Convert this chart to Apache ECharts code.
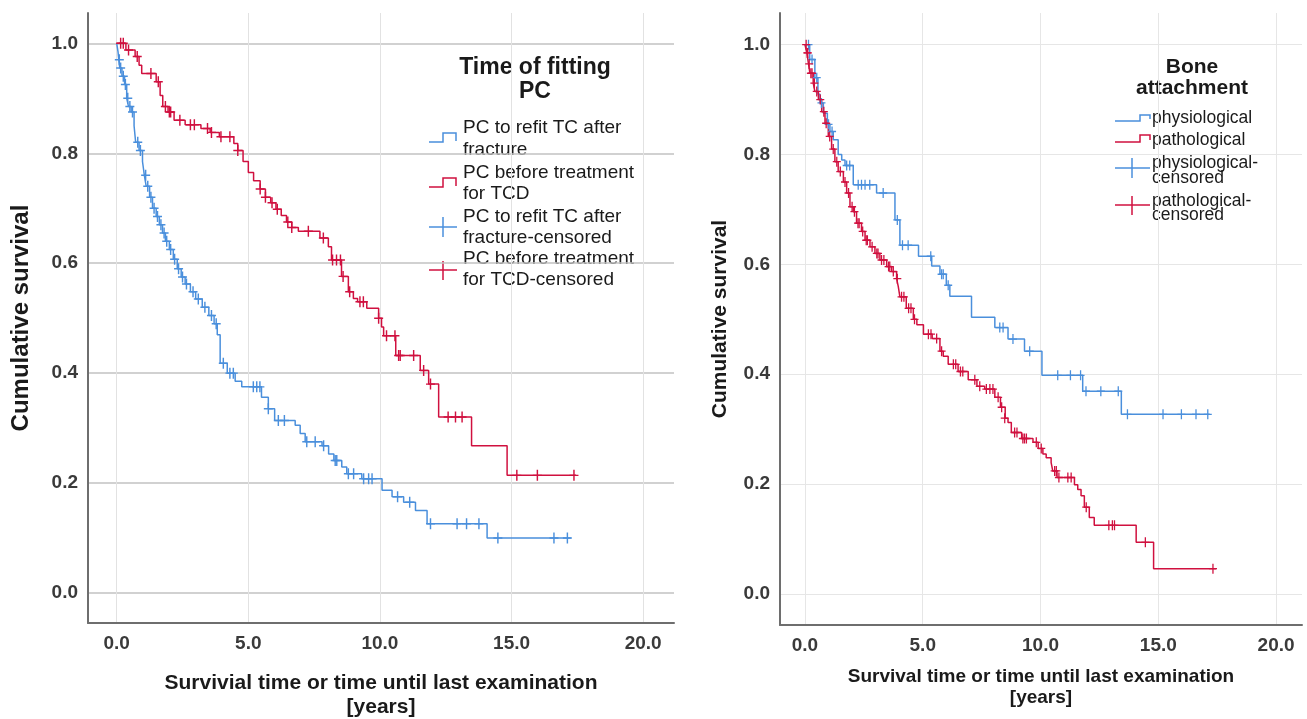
<!DOCTYPE html>
<html>
<head>
<meta charset="utf-8">
<script src="https://cdn.jsdelivr.net/npm/echarts@6/dist/echarts.min.js"></script>
<style>
html,body{margin:0;padding:0;background:#fff;}
#chart{width:1307px;height:719px;}
</style>
</head>
<body>
<div id="chart"></div>
<script>
// ---------- Left chart: Time of fitting PC ----------
var leftSeriesNames = ['PC to refit TC after fracture', 'PC before treatment for TCD'];
// Kaplan-Meier step points [years, cumulative survival]
var leftFractureSteps = [[0,1.0],[0.05,0.985],[0.08,0.97],[0.12,0.955],[0.2,0.94],[0.3,0.925],[0.38,0.9],[0.45,0.885],[0.55,0.875],[0.66,0.85],[0.72,0.82],[0.85,0.805],[0.98,0.785],[1.05,0.76],[1.12,0.74],[1.25,0.72],[1.36,0.70],[1.5,0.685],[1.62,0.67],[1.74,0.655],[1.85,0.64],[2.0,0.625],[2.15,0.607],[2.3,0.59],[2.45,0.575],[2.6,0.562],[2.8,0.548],[3.0,0.535],[3.25,0.52],[3.5,0.505],[3.7,0.49],[3.82,0.47],[3.93,0.418],[4.2,0.40],[4.5,0.385],[4.75,0.375],[5.5,0.356],[5.76,0.335],[6.0,0.314],[6.78,0.305],[6.97,0.29],[7.16,0.275],[7.8,0.268],[8.05,0.253],[8.25,0.241],[8.55,0.229],[8.74,0.217],[9.31,0.208],[10.08,0.187],[10.46,0.175],[10.9,0.165],[11.35,0.15],[11.79,0.126],[14.07,0.1],[17.25,0.1]];
var leftFractureCensored = [[0.1,0.97],[0.15,0.955],[0.25,0.94],[0.33,0.925],[0.42,0.9],[0.5,0.885],[0.6,0.875],[0.8,0.82],[0.9,0.805],[1.1,0.76],[1.18,0.74],[1.3,0.72],[1.42,0.70],[1.55,0.685],[1.68,0.67],[1.8,0.655],[1.9,0.64],[2.05,0.625],[2.2,0.607],[2.35,0.59],[2.5,0.575],[2.65,0.562],[2.9,0.548],[3.1,0.535],[3.35,0.52],[3.6,0.505],[3.78,0.49],[4.05,0.418],[4.3,0.40],[4.43,0.40],[5.19,0.375],[5.32,0.375],[5.44,0.375],[5.76,0.335],[6.14,0.314],[6.37,0.314],[7.22,0.275],[7.54,0.275],[7.86,0.268],[8.3,0.241],[8.36,0.241],[8.8,0.217],[9.0,0.217],[9.38,0.208],[9.57,0.208],[9.7,0.208],[10.67,0.175],[11.13,0.165],[11.92,0.126],[12.93,0.126],[13.29,0.126],[13.76,0.126],[14.48,0.1],[16.61,0.1],[17.12,0.1]];
var leftTcdSteps = [[0,1.0],[0.35,0.988],[0.7,0.976],[0.85,0.96],[0.95,0.945],[1.5,0.93],[1.65,0.905],[1.75,0.885],[1.95,0.875],[2.18,0.86],[2.6,0.852],[3.2,0.845],[3.55,0.838],[3.9,0.83],[4.45,0.818],[4.6,0.805],[4.8,0.785],[5.0,0.765],[5.2,0.75],[5.45,0.735],[5.65,0.72],[5.85,0.71],[6.05,0.698],[6.25,0.687],[6.45,0.675],[6.65,0.665],[6.9,0.658],[7.72,0.646],[8.04,0.63],[8.16,0.606],[8.54,0.576],[8.8,0.548],[8.99,0.536],[9.15,0.53],[9.5,0.518],[9.95,0.5],[10.06,0.484],[10.14,0.468],[10.6,0.432],[11.53,0.405],[11.85,0.38],[12.23,0.32],[13.48,0.268],[14.83,0.214],[17.45,0.214]];
var leftTcdCensored = [[0.15,1.0],[0.25,1.0],[0.45,0.988],[0.78,0.976],[1.3,0.945],[1.58,0.93],[1.85,0.885],[2.0,0.875],[2.05,0.875],[2.4,0.86],[2.8,0.852],[2.95,0.852],[3.45,0.845],[3.6,0.838],[3.96,0.83],[4.3,0.83],[4.6,0.805],[5.45,0.735],[5.65,0.72],[5.9,0.71],[6.1,0.698],[6.5,0.675],[6.65,0.665],[7.28,0.658],[7.85,0.646],[8.2,0.606],[8.35,0.606],[8.5,0.606],[8.6,0.576],[8.85,0.548],[9.24,0.53],[9.37,0.53],[9.95,0.5],[10.25,0.468],[10.57,0.468],[10.71,0.432],[10.77,0.432],[11.28,0.432],[11.66,0.405],[11.92,0.38],[12.59,0.32],[12.87,0.32],[13.12,0.32],[15.2,0.214],[15.98,0.214],[17.37,0.214]];

// ---------- Right chart: Bone attachment ----------
var rightSeriesNames = ['physiological', 'pathological'];
var rightPhysSteps = [[0,1.0],[0.2,0.973],[0.42,0.94],[0.55,0.91],[0.64,0.894],[0.78,0.875],[0.95,0.855],[1.06,0.842],[1.2,0.827],[1.41,0.8],[1.56,0.79],[1.7,0.78],[2.05,0.745],[3.04,0.73],[3.82,0.681],[4.03,0.635],[4.82,0.615],[5.38,0.597],[5.73,0.582],[6.0,0.562],[6.15,0.542],[7.07,0.504],[8.06,0.485],[8.62,0.464],[9.32,0.442],[10.06,0.398],[11.79,0.369],[13.43,0.327],[17.18,0.327]];
var rightPhysCensored = [[0.15,1.0],[0.3,0.973],[0.5,0.94],[0.7,0.894],[1.0,0.855],[1.15,0.842],[1.77,0.78],[1.9,0.78],[2.26,0.745],[2.4,0.745],[2.55,0.745],[2.75,0.745],[3.32,0.73],[3.92,0.681],[4.14,0.635],[4.38,0.635],[5.34,0.615],[5.8,0.582],[5.87,0.582],[6.08,0.562],[8.27,0.485],[8.41,0.485],[8.83,0.464],[9.54,0.442],[10.73,0.398],[11.27,0.398],[11.7,0.398],[11.93,0.369],[12.56,0.369],[13.3,0.369],[13.69,0.327],[15.2,0.327],[15.98,0.327],[16.6,0.327],[17.1,0.327]];
var rightPathSteps = [[0,1.0],[0.08,0.985],[0.15,0.965],[0.21,0.948],[0.35,0.93],[0.42,0.915],[0.57,0.9],[0.71,0.878],[0.85,0.857],[0.99,0.833],[1.13,0.81],[1.27,0.787],[1.41,0.769],[1.63,0.75],[1.77,0.73],[1.91,0.705],[2.05,0.696],[2.19,0.675],[2.4,0.66],[2.55,0.644],[2.76,0.632],[2.97,0.62],[3.18,0.608],[3.47,0.596],[3.68,0.587],[3.89,0.574],[3.96,0.56],[4.03,0.541],[4.3,0.52],[4.6,0.5],[4.75,0.49],[5.03,0.473],[5.4,0.465],[5.73,0.442],[5.87,0.433],[6.08,0.418],[6.5,0.405],[6.93,0.39],[7.3,0.378],[7.63,0.373],[8.06,0.358],[8.3,0.34],[8.5,0.32],[8.62,0.312],[8.76,0.294],[9.2,0.283],[9.68,0.276],[9.9,0.265],[10.1,0.255],[10.24,0.248],[10.45,0.239],[10.52,0.224],[10.7,0.212],[11.44,0.199],[11.58,0.19],[11.72,0.179],[11.86,0.158],[12.07,0.139],[12.28,0.125],[14.06,0.094],[14.8,0.046],[17.46,0.046]];
var rightPathCensored = [[0.05,1.0],[0.1,0.985],[0.12,0.985],[0.18,0.965],[0.25,0.948],[0.3,0.948],[0.4,0.93],[0.5,0.915],[0.65,0.9],[0.8,0.878],[0.9,0.857],[1.05,0.833],[1.2,0.81],[1.35,0.787],[1.5,0.769],[1.7,0.75],[1.85,0.73],[2.0,0.705],[2.1,0.696],[2.25,0.675],[2.3,0.675],[2.45,0.66],[2.6,0.644],[2.65,0.644],[2.85,0.632],[3.05,0.62],[3.1,0.62],[3.25,0.608],[3.35,0.608],[3.55,0.596],[3.6,0.596],[3.75,0.587],[3.92,0.574],[4.1,0.541],[4.2,0.541],[4.4,0.52],[4.5,0.52],[4.65,0.5],[5.24,0.473],[5.35,0.473],[5.59,0.465],[5.8,0.442],[6.3,0.418],[6.4,0.418],[6.6,0.405],[6.7,0.405],[7.21,0.39],[7.42,0.378],[7.7,0.373],[7.85,0.373],[7.98,0.373],[8.2,0.358],[8.35,0.34],[8.48,0.32],[8.9,0.294],[9.0,0.294],[9.25,0.283],[9.32,0.283],[9.4,0.283],[9.82,0.276],[10.03,0.265],[10.6,0.224],[10.67,0.224],[10.78,0.212],[11.16,0.212],[11.3,0.212],[11.94,0.158],[12.9,0.125],[13.05,0.125],[13.14,0.125],[14.45,0.094],[17.32,0.046]];

// ---------- Text ----------
var yAxisTitle = 'Cumulative survival';
var leftXAxisTitle = 'Survivial time or time until last examination\n[years]';
var rightXAxisTitle = 'Survival time or time until last examination\n[years]';
var leftLegendTitle = ['Time of fitting', 'PC'];
var leftLegendLabels = [['PC to refit TC after', 'fracture'], ['PC before treatment', 'for TCD'], ['PC to refit TC after', 'fracture-censored'], ['PC before treatment', 'for TCD-censored']];
var rightLegendTitle = ['Bone', 'attachment'];
var rightLegendLabels = [['physiological'], ['pathological'], ['physiological-', 'censored'], ['pathological-', 'censored']];

var BLUE = '#4a8fdc';
var RED = '#d0103f';
var FONT = '"Liberation Sans", Arial, sans-serif';
var PLUS = 'path://M4.2,0 H5.8 V12 H4.2 Z M0,5.2 H10 V6.8 H0 Z';

function xAxisCfg(grid, min, max, name, nameSize, nameGap, lineH, vGridColor) {
  return {
    type: 'value', gridIndex: grid, min: min, max: max, splitNumber: 5,
    name: name, nameLocation: 'middle', nameGap: nameGap,
    nameTextStyle: {fontFamily: FONT, fontWeight: 'bold', fontSize: nameSize, color: '#1a1a1a', lineHeight: lineH},
    axisLine: {show: true, onZero: false, lineStyle: {color: '#6e6e6e', width: 2}},
    axisTick: {show: false},
    axisLabel: {fontFamily: FONT, fontWeight: 'bold', fontSize: 19, color: '#3a3a3a', margin: 11,
      showMinLabel: false, showMaxLabel: false,
      formatter: function (v) { return v.toFixed(1); }},
    splitLine: {show: true, showMinLine: false, showMaxLine: false, lineStyle: {color: vGridColor, width: 1}}
  };
}
function yAxisCfg(grid, min, max, nameSize, nameGap, hGridColor, hGridWidth) {
  return {
    type: 'value', gridIndex: grid, min: min, max: max, splitNumber: 5,
    name: yAxisTitle, nameLocation: 'middle', nameGap: nameGap, nameRotate: 90,
    nameTextStyle: {fontFamily: FONT, fontWeight: 'bold', fontSize: nameSize, color: '#1a1a1a'},
    axisLine: {show: true, onZero: false, lineStyle: {color: '#6e6e6e', width: 2}},
    axisTick: {show: false},
    axisLabel: {fontFamily: FONT, fontWeight: 'bold', fontSize: 19, color: '#3a3a3a', margin: 10,
      showMinLabel: false, showMaxLabel: false,
      formatter: function (v) { return v.toFixed(1); }},
    splitLine: {show: true, showMinLine: false, showMaxLine: false, lineStyle: {color: hGridColor, width: hGridWidth}}
  };
}
function stepSeries(name, idx, data, color) {
  return {name: name, type: 'line', step: 'end', xAxisIndex: idx, yAxisIndex: idx, data: data,
    showSymbol: false, symbol: 'none', lineStyle: {color: color, width: 1.5}, itemStyle: {color: color}, z: 3};
}
function censorSeries(name, idx, data, color, size) {
  return {name: name, type: 'scatter', xAxisIndex: idx, yAxisIndex: idx, data: data,
    symbol: PLUS, symbolSize: size, itemStyle: {color: color, opacity: 1}, z: 4};
}

// ---------- Legends (drawn as graphics) ----------
var graphics = [];
function txt(x, y, s, size, bold, align) {
  graphics.push({type: 'text', x: x, y: y, silent: true,
    style: {text: s, fontFamily: FONT, fontSize: size, fontWeight: bold ? 'bold' : 'normal', fill: '#1a1a1a',
      textAlign: align || 'left', textVerticalAlign: 'middle'}});
}
function poly(points, color) {
  graphics.push({type: 'polyline', silent: true, shape: {points: points}, style: {stroke: color, lineWidth: 1.5, fill: null}});
}
// left legend
txt(535, 68, leftLegendTitle[0], 23, true, 'center');
txt(535, 92, leftLegendTitle[1], 23, true, 'center');
var leftLegendY = [[128, 150], [173, 194], [217, 238], [259, 280]];
leftLegendLabels.forEach(function (lines, i) {
  lines.forEach(function (l, j) { txt(463, leftLegendY[i][j], l, 19, false); });
});
poly([[429,142],[443,142],[443,133],[456,133],[456,141]], BLUE);
poly([[429,187],[443,187],[443,178],[456,178],[456,186]], RED);
poly([[429,227],[457,227]], BLUE); poly([[443,217],[443,237]], BLUE);
poly([[429,270],[457,270]], RED); poly([[443,261],[443,280]], RED);
// right legend
txt(1192, 67, rightLegendTitle[0], 21, true, 'center');
txt(1192, 88, rightLegendTitle[1], 21, true, 'center');
var rightLegendY = [[118], [140], [163, 178], [201, 215]];
rightLegendLabels.forEach(function (lines, i) {
  lines.forEach(function (l, j) { txt(1152, rightLegendY[i][j], l, 17.5, false); });
});
poly([[1115,121],[1140,121],[1140,115],[1150,115],[1150,119]], BLUE);
poly([[1115,142],[1140,142],[1140,135],[1150,135],[1150,140]], RED);
poly([[1115,168],[1150,168]], BLUE); poly([[1132,158],[1132,178]], BLUE);
poly([[1115,205],[1150,205]], RED); poly([[1132,196],[1132,215]], RED);

var chart = echarts.init(document.getElementById('chart'), null, {renderer: 'canvas'});
chart.setOption({
  animation: false,
  backgroundColor: '#ffffff',
  grid: [
    {left: 88, top: 13, right: 633, bottom: 96, containLabel: false, outerBoundsMode: 'none'},
    {left: 780, top: 13, right: 5, bottom: 94, containLabel: false, outerBoundsMode: 'none'}
  ],
  xAxis: [
    xAxisCfg(0, -1.09, 21.17, leftXAxisTitle, 21, 48, 24, '#e2e2e2'),
    xAxisCfg(1, -1.06, 21.1, rightXAxisTitle, 19, 41, 21, '#e6e6e6')
  ],
  yAxis: [
    yAxisCfg(0, -0.0546, 1.0552, 24, 55, '#c2c2c2', 1.5),
    yAxisCfg(1, -0.0565, 1.0577, 21, 49, '#e6e6e6', 1.2)
  ],
  series: [
    stepSeries(leftSeriesNames[0], 0, leftFractureSteps, BLUE),
    stepSeries(leftSeriesNames[1], 0, leftTcdSteps, RED),
    censorSeries(leftSeriesNames[0] + '-censored', 0, leftFractureCensored, BLUE, [9, 11]),
    censorSeries(leftSeriesNames[1] + '-censored', 0, leftTcdCensored, RED, [9, 11]),
    stepSeries(rightSeriesNames[0], 1, rightPhysSteps, BLUE),
    stepSeries(rightSeriesNames[1], 1, rightPathSteps, RED),
    censorSeries(rightSeriesNames[0] + '-censored', 1, rightPhysCensored, BLUE, [8, 10]),
    censorSeries(rightSeriesNames[1] + '-censored', 1, rightPathCensored, RED, [8, 10])
  ],
  graphic: graphics
});
</script>
</body>
</html>
